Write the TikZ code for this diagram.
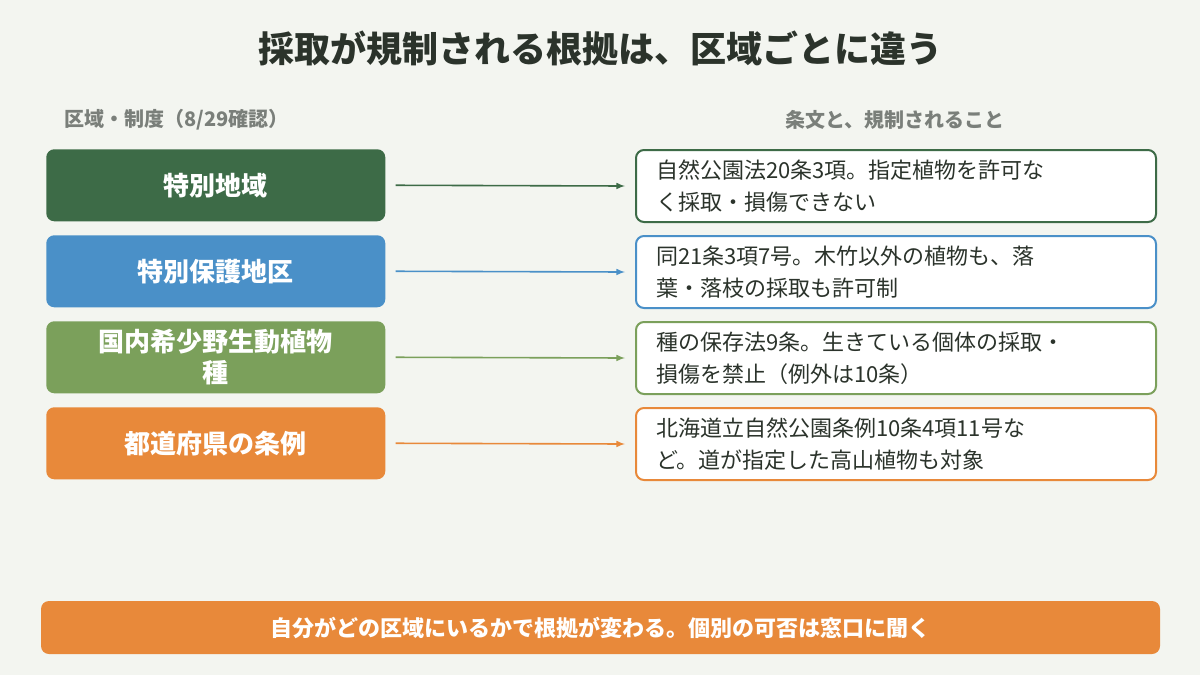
\documentclass[tikz,border=0pt]{standalone}
\usepackage{fontspec}
\setmainfont{Noto Sans CJK JP}
\begin{document}
\begin{tikzpicture}[x=0.75pt,y=-0.75pt,
 lbox/.style={rounded corners=6pt,minimum width=339*0.75pt,minimum height=72*0.75pt,text=white,font=\fontsize{19.5}{23}\selectfont\bfseries,align=center,anchor=north west,inner sep=0pt},
 rbox/.style={draw,line width=1.5pt,fill=white,rounded corners=6pt,minimum width=520*0.75pt,minimum height=72*0.75pt,text=txt,font=\fontsize{16.5}{24}\selectfont,align=left,anchor=north west,inner sep=0pt,text width=480*0.75pt},
 arr/.style={-latex,line width=1.2pt}]
\definecolor{bg}{HTML}{F3F5F0}
\definecolor{dg}{HTML}{3D6B47}
\definecolor{bl}{HTML}{4A90C8}
\definecolor{lg}{HTML}{7BA05B}
\definecolor{og}{HTML}{E8893A}
\definecolor{txt}{HTML}{2B332B}
\definecolor{gr}{HTML}{7A7F7A}
\fill[bg] (0,0) rectangle (1200,675);
\node[font=\fontsize{27}{32}\selectfont\bfseries,text=txt] (title) at (600,48) {採取が規制される根拠は、区域ごとに違う};
\node[font=\fontsize{15}{18}\selectfont\bfseries,text=gr,anchor=west] (h1) at (60,120) {区域・制度（8/29確認）};
\node[font=\fontsize{15}{18}\selectfont\bfseries,text=gr] (h2) at (895,120) {条文と、規制されること};
\foreach \i/\c/\y/\l/\r in {
 1/dg/149/特別地域/{自然公園法20条3項。指定植物を許可な\\く採取・損傷できない},
 2/bl/235/特別保護地区/{同21条3項7号。木竹以外の植物も、落\\葉・落枝の採取も許可制},
 3/lg/321/{国内希少野生動植物\\種}/{種の保存法9条。生きている個体の採取・\\損傷を禁止（例外は10条）},
 4/og/407/都道府県の条例/{北海道立自然公園条例10条4項11号な\\ど。道が指定した高山植物も対象}}{
 \node[lbox,fill=\c] (L\i) at (46,\y) {\l};
 \node[rbox,draw=\c] (R\i) at (635,\y) {\r};
 \draw[arr,draw=\c] ([xshift=7.5pt]L\i.east) -- ([xshift=-7.5pt]R\i.west);
}
\node[fill=og,rounded corners=6pt,minimum width=1119*0.75pt,minimum height=53*0.75pt,text=white,font=\fontsize{16.5}{20}\selectfont\bfseries,inner sep=0pt] (bar) at (600.5,627.5) {自分がどの区域にいるかで根拠が変わる。個別の可否は窓口に聞く};
\end{tikzpicture}
\end{document}
